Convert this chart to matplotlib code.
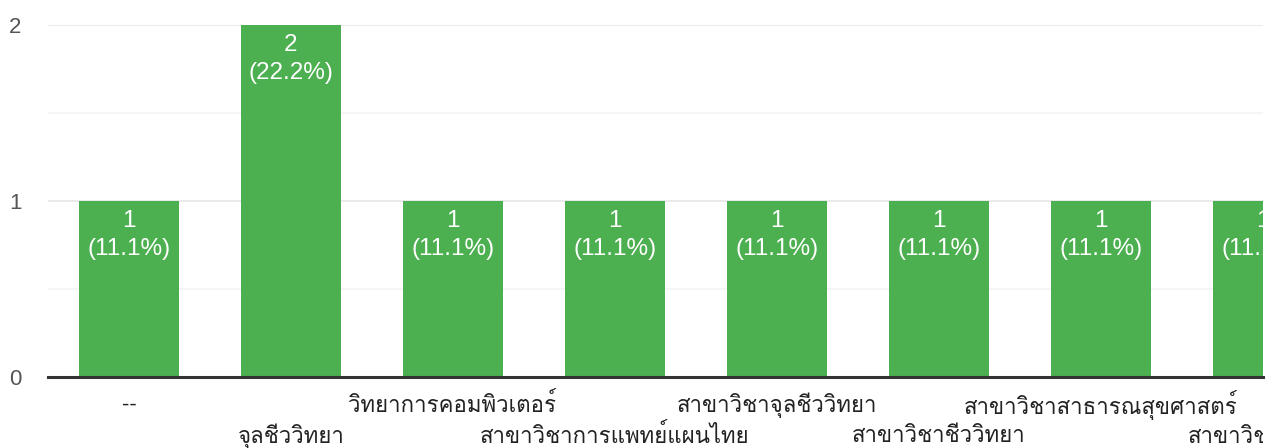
import matplotlib
matplotlib.use("Agg")
import matplotlib.pyplot as plt
from matplotlib import font_manager
from matplotlib.ft2font import FT2Font
from matplotlib.transforms import Bbox

categories = ["--", "จุลชีววิทยา", "วิทยาการคอมพิวเตอร์", "สาขาวิชาการแพทย์แผนไทย",
              "สาขาวิชาจุลชีววิทยา", "สาขาวิชาชีววิทยา", "สาขาวิชาสาธารณสุขศาสตร์",
              "สาขาวิชาฟิสิกส์"]
counts = [1, 2, 1, 1, 1, 1, 1, 1]
y_ticks = [0, 1, 2]

# find a font that covers Thai
thai_family = None
cands = []
for fe in font_manager.fontManager.ttflist:
    try:
        cm = FT2Font(fe.fname).get_charmap()
        if 0x0E01 in cm and 0x0E2A in cm and 0x0E34 in cm:
            cands.append(fe.name)
    except Exception:
        pass
for pref in ["Loma", "Tlwg Typo", "Garuda", "Noto Sans Thai", "Tahoma"]:
    if pref in cands:
        thai_family = pref
        break
if thai_family is None and cands:
    thai_family = cands[0]
fams = ["Liberation Sans"] + ([thai_family] if thai_family else []) + ["DejaVu Sans"]
plt.rcParams["font.family"] = fams

W, H = 1275, 448
fig = plt.figure(figsize=(W / 100, H / 100), dpi=100)
left, right, top, bottom = 48, 1263, 25, 377
ax = fig.add_axes([left / W, (H - bottom) / H, (right - left) / W, (bottom - top) / H])

total = sum(counts)
x = list(range(len(counts)))
bar_color = "#4caf50"
ax.bar(x, counts, width=100 / 162, color=bar_color, zorder=3)
ax.set_xlim(-0.5, 7.0)
ax.set_ylim(0, 2)

for s in ax.spines.values():
    s.set_visible(False)
ax.axhline(0, color="#333333", lw=2.2, zorder=4, clip_on=False)
for yv in [1, 2]:
    ax.axhline(yv, color="#e6e6e6", lw=1.2, zorder=1)
for yv in [0.5, 1.5]:
    ax.axhline(yv, color="#f3f3f3", lw=1.2, zorder=1)

ax.set_yticks(y_ticks)
ax.set_yticklabels([str(v) for v in y_ticks])
ax.tick_params(axis="y", length=0, pad=19, labelsize=16, labelcolor="#555555")
ax.set_xticks([])

for i, c in enumerate(counts):
    pct = 100 * c / total
    ax.annotate(str(c), xy=(i, c), xytext=(0, -18.7), textcoords="offset points",
                ha="center", va="baseline", color="white", fontsize=17.5, zorder=5,
                annotation_clip=False).set_clip_on(True)
    ax.annotate(f"({pct:.1f}%)", xy=(i, c), xytext=(0, -38.9), textcoords="offset points",
                ha="center", va="baseline", color="white", fontsize=17.5, zorder=5,
                annotation_clip=False).set_clip_on(True)

clipbox = Bbox([[0, 0], [right, H]])
for i, lab in enumerate(categories):
    off = -20.5 if i % 2 == 0 else -42.5
    t = ax.annotate(lab, xy=(i, 0), xycoords=("data", "axes fraction"),
                    xytext=(0, off), textcoords="offset points", ha="center",
                    va="center", fontsize=16, color="#222222", annotation_clip=False)
    t.set_clip_box(clipbox)
    t.set_clip_on(True)

fig.savefig("out.png", dpi=100, facecolor="white")
